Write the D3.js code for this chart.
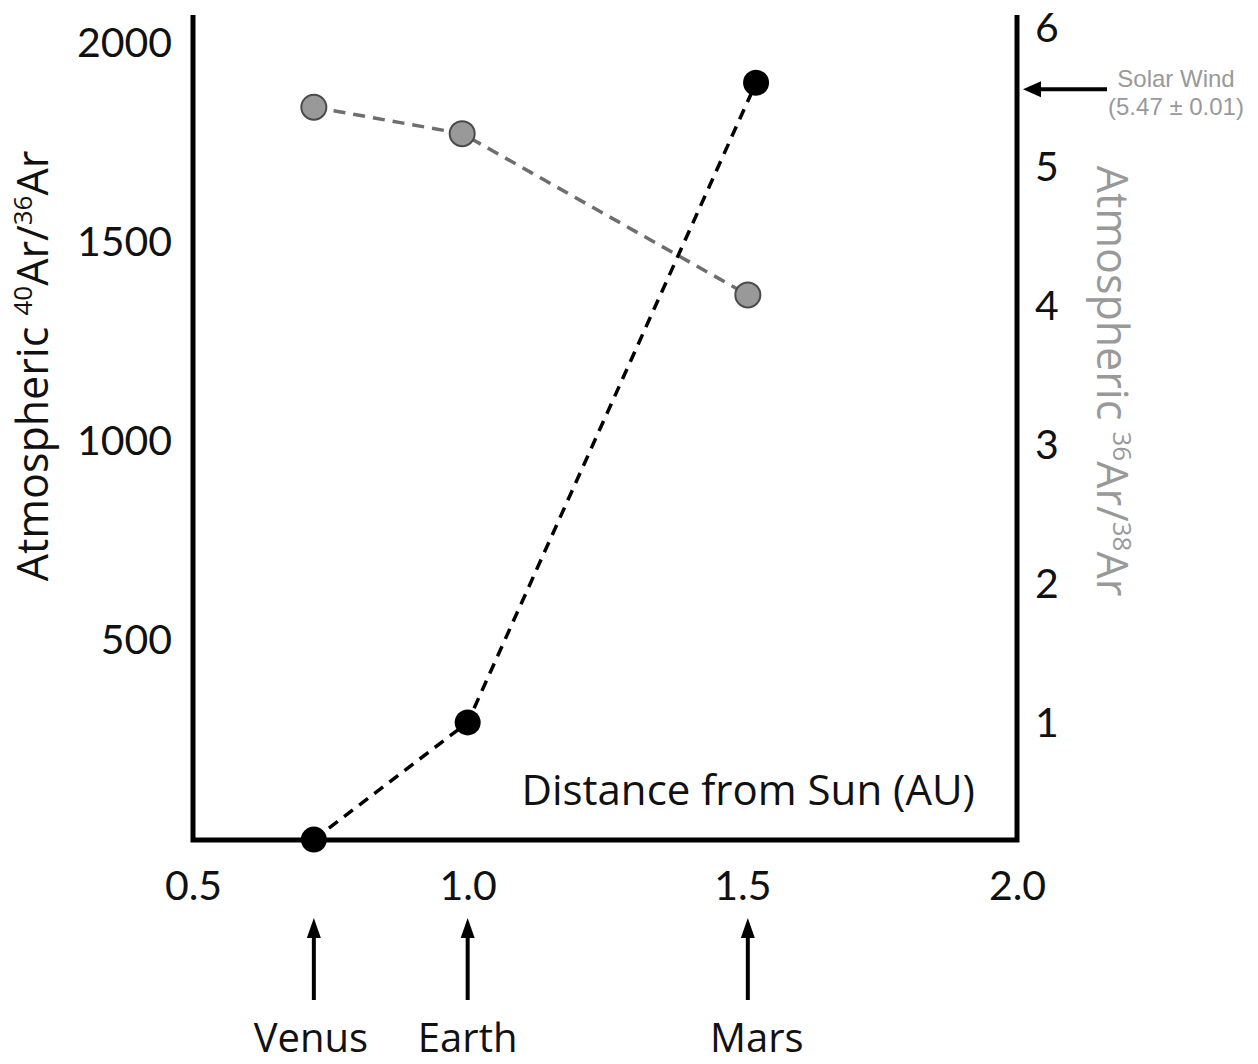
<!DOCTYPE html>
<html><head><meta charset="utf-8">
<script src="https://cdn.jsdelivr.net/npm/d3@7"></script>
<style>body{margin:0;background:#fff} svg{display:block}</style>
</head><body><svg id="c" width="1258" height="1064" font-family="'Open Sans',sans-serif"></svg>
<script>
// ---- data ----
const planets = ["Venus", "Earth", "Mars"];
const planetDistanceAU = [0.72, 1.0, 1.51];
const ar4036Distance = [0.72, 1.0, 1.525];
const ar4036Values = [1, 295, 1900];
const ar3638Distance = [0.72, 0.99, 1.51];
const ar3638Values = [5.43, 5.24, 4.08];
const xTicks = [0.5, 1.0, 1.5, 2.0];
const leftTicks = [500, 1000, 1500, 2000];
const rightTicks = [1, 2, 3, 4, 5, 6];
const solarWindValue = 5.56; // arrow position as drawn
const solarWindLabel = ["Solar Wind", "(5.47 \u00B1 0.01)"];
const xTitle = "Distance from Sun (AU)";

// ---- scales ----
const svg = d3.select("#c");
const x = d3.scaleLinear().domain([0.5, 2.0]).range([193, 1017]);
const yL = d3.scaleLinear().domain([0, 2070]).range([840, 15]);
const yR = d3.scaleLinear().domain([0, 6]).range([862, 28]);

const black = "#000";
const grayText = "#999";
const numFont = "Lato,'Open Sans',sans-serif";

// frame
svg.append("path")
  .attr("d", `M${x(0.5)},${yL(2070)}V${yL(0)}H${x(2.0)}V${yL(2070)}`)
  .attr("fill", "none").attr("stroke", black).attr("stroke-width", 5)
  .attr("stroke-linejoin", "miter");

// axes
function styleAxis(g, color) {
  g.attr("font-family", null).attr("font-size", null);
  g.select(".domain").remove();
  g.selectAll("text").style("font-size", "41px").style("font-family", numFont).attr("fill", color);
}
svg.append("g").attr("transform", `translate(${x(0.5)},0)`)
  .call(d3.axisLeft(yL).tickValues(leftTicks).tickSize(0).tickPadding(21).tickFormat(d3.format("d")))
  .call(g => styleAxis(g, "#111"));
svg.append("g").attr("transform", `translate(${x(2.0)},0)`)
  .call(d3.axisRight(yR).tickValues(rightTicks).tickSize(0).tickPadding(18).tickFormat(d3.format("d")))
  .call(g => styleAxis(g, "#111"))
  .call(g => g.selectAll("text").attr("dy", "0.34em"));
svg.append("g").attr("transform", `translate(0,${yL(0)})`)
  .call(d3.axisBottom(x).tickValues(xTicks).tickSize(0).tickPadding(31).tickFormat(d3.format(".1f")))
  .call(g => styleAxis(g, "#111"));

// axis titles
const lt = svg.append("text").attr("transform", "translate(48,366) rotate(-90)")
  .attr("text-anchor", "middle").attr("font-size", 43).attr("fill", "#111");
lt.append("tspan").text("Atmospheric ");
lt.append("tspan").attr("font-size", 26).attr("dy", -16).text("40");
lt.append("tspan").attr("dy", 16).text("Ar/");
lt.append("tspan").attr("font-size", 26).attr("dy", -16).text("36");
lt.append("tspan").attr("dy", 16).text("Ar");

const rt = svg.append("text").attr("transform", "translate(1097,381) rotate(90)")
  .attr("text-anchor", "middle").attr("font-size", 43).attr("fill", grayText);
rt.append("tspan").text("Atmospheric ");
rt.append("tspan").attr("font-size", 26).attr("dy", -16).text("36");
rt.append("tspan").attr("dy", 16).text("Ar/");
rt.append("tspan").attr("font-size", 26).attr("dy", -16).text("38");
rt.append("tspan").attr("dy", 16).text("Ar");

svg.append("text").attr("x", 975).attr("y", 805).attr("text-anchor", "end")
  .attr("font-size", 42).attr("fill", "#111").text(xTitle);

// series lines
const grayPts = ar3638Distance.map((d, i) => [d, ar3638Values[i]]);
const blackPts = ar4036Distance.map((d, i) => [d, ar4036Values[i]]);
svg.append("path").datum(grayPts)
  .attr("d", d3.line().x(d => x(d[0])).y(d => yR(d[1])))
  .attr("fill", "none").attr("stroke", "#6e6e6e").attr("stroke-width", 3.5)
  .attr("stroke-dasharray", "12,8");
svg.append("path").datum(blackPts)
  .attr("d", d3.line().x(d => x(d[0])).y(d => yL(d[1])))
  .attr("fill", "none").attr("stroke", black).attr("stroke-width", 3.5)
  .attr("stroke-dasharray", "11,8");

svg.selectAll("circle.g").data(grayPts).join("circle").attr("class", "g")
  .attr("cx", d => x(d[0])).attr("cy", d => yR(d[1])).attr("r", 12.5)
  .attr("fill", "#999").attr("stroke", "#4a4a4a").attr("stroke-width", 2);
svg.selectAll("circle.b").data(blackPts).join("circle").attr("class", "b")
  .attr("cx", d => x(d[0])).attr("cy", d => yL(d[1])).attr("r", 13)
  .attr("fill", black);

// solar wind arrow
const swy = yR(solarWindValue);
svg.append("line").attr("x1", 1107).attr("x2", 1036).attr("y1", swy).attr("y2", swy)
  .attr("stroke", black).attr("stroke-width", 4);
svg.append("path").attr("d", `M1023,${swy}L1041,${swy - 8}L1041,${swy + 8}Z`).attr("fill", black);
svg.selectAll("text.sw").data(solarWindLabel).join("text").attr("class", "sw")
  .attr("x", 1176).attr("y", (d, i) => 87 + i * 28).attr("text-anchor", "middle")
  .style("font-size", "24px").style("font-family", "'Liberation Sans',sans-serif")
  .attr("fill", grayText).text(d => d);

// planet arrows + labels
const pg = svg.selectAll("g.planet").data(planets).join("g").attr("class", "planet")
  .attr("transform", (d, i) => `translate(${x(planetDistanceAU[i])},0)`);
pg.append("line").attr("x1", 0).attr("x2", 0).attr("y1", 1000).attr("y2", 934)
  .attr("stroke", black).attr("stroke-width", 4);
pg.append("path").attr("d", "M0,918L-7,938L7,938Z").attr("fill", black);
pg.append("text").attr("x", (d, i) => i === 0 ? -3 : (i === 2 ? 9 : 0))
  .attr("y", 1052).attr("text-anchor", "middle").attr("font-size", 40)
  .attr("fill", "#111").text(d => d);
</script></body></html>
